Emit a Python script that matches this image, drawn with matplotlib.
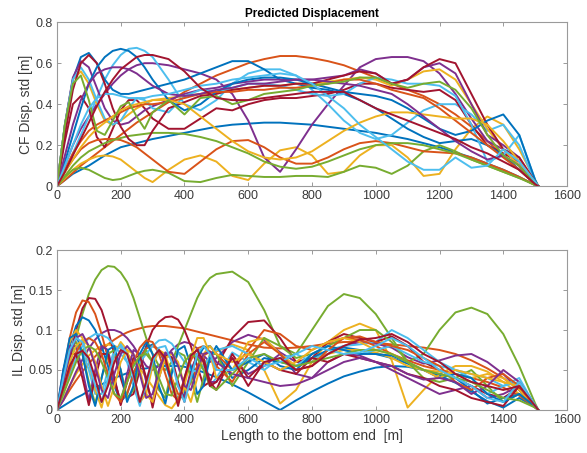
import matplotlib
matplotlib.use("Agg")
import matplotlib.pyplot as plt

plt.rcParams['font.family'] = ['Liberation Sans', 'DejaVu Sans']

# ---- CF panel: positions along the riser [m] where values were read
cf_x = [0, 25, 50, 75, 100, 125, 150, 175, 200, 225, 250, 275, 300] + list(range(350, 1501, 50)) + [1510]

cf_blue_1 = [0, .03, .06, .08, .10, .125, .15, .17, .19, .20, .21, .22, .23,
             .245, .26, .275, .29, .30, .305, .31, .31, .305, .30, .29, .28, .27, .26, .245, .23, .21, .19, .165, .14, .11, .08, .045, .005, 0]
cf_blue_2 = [0, .30, .52, .63, .65, .60, .52, .47, .45, .45, .46, .47, .48,
             .50, .52, .55, .58, .61, .61, .57, .52, .50, .48, .47, .45, .42, .38, .33, .28, .24, .21, .22, .23, .20, .15, .08, .01, 0]
cf_blue_3 = [0, .12, .25, .38, .50, .58, .63, .66, .67, .66, .63, .58, .52,
             .42, .37, .40, .46, .50, .52, .53, .53, .52, .50, .48, .46, .45, .44, .42, .38, .33, .28, .25, .27, .32, .35, .25, .03, 0]
cf_orange_1 = [0, .03, .065, .10, .13, .16, .19, .22, .25, .28, .31, .335, .36,
               .41, .46, .50, .54, .57, .60, .62, .635, .635, .625, .61, .59, .56, .53, .50, .47, .44, .40, .35, .29, .22, .15, .08, .01, 0]
cf_orange_2 = [0, .07, .13, .18, .21, .225, .23, .23, .225, .21, .19, .16, .13,
               .07, .06, .12, .18, .22, .225, .19, .14, .11, .11, .14, .18, .21, .22, .21, .19, .17, .165, .16, .14, .11, .08, .045, .005, 0]
cf_orange_3 = [0, .08, .16, .22, .27, .30, .32, .34, .36, .38, .39, .40, .40,
               .41, .43, .45, .46, .46, .47, .47, .48, .48, .49, .50, .52, .52, .50, .47, .45, .43, .38, .32, .26, .20, .14, .08, .01, 0]
cf_yellow_1 = [0, .04, .08, .11, .13, .145, .15, .145, .13, .10, .07, .04, .02,
               .08, .13, .15, .12, .05, .03, .11, .175, .19, .15, .06, .07, .15, .20, .20, .14, .05, .06, .18, .28, .34, .30, .18, .03, 0]
cf_yellow_2 = [0, .30, .52, .56, .50, .40, .32, .30, .32, .35, .38, .40, .42,
               .43, .44, .45, .46, .47, .48, .49, .49, .50, .50, .51, .52, .53, .52, .49, .52, .56, .57, .52, .40, .28, .18, .10, .01, 0]
cf_yellow_3 = [0, .07, .13, .19, .24, .28, .31, .34, .37, .39, .40, .41, .42,
               .42, .40, .34, .28, .22, .17, .14, .13, .14, .17, .22, .27, .31, .34, .36, .36, .35, .34, .33, .33, .30, .22, .12, .02, 0]
cf_purple_1 = [0, .10, .20, .28, .34, .40, .45, .50, .54, .57, .59, .60, .60,
               .59, .57, .55, .52, .45, .32, .14, .07, .18, .30, .40, .49, .58, .62, .63, .63, .61, .55, .45, .33, .22, .18, .10, .01, 0]
cf_purple_2 = [0, .30, .53, .61, .58, .48, .38, .32, .30, .31, .34, .37, .39,
               .42, .45, .47, .48, .50, .51, .52, .52, .52, .52, .53, .54, .57, .55, .50, .52, .58, .60, .55, .40, .25, .20, .14, .02, 0]
cf_purple_3 = [0, .15, .30, .42, .50, .55, .57, .58, .58, .57, .55, .52, .49,
               .45, .44, .45, .47, .48, .50, .50, .51, .52, .52, .51, .50, .49, .47, .45, .40, .34, .28, .22, .17, .13, .15, .10, .01, 0]
cf_green_1 = [0, .045, .08, .09, .08, .06, .04, .03, .035, .05, .065, .075, .08,
              .065, .025, .02, .04, .055, .05, .045, .045, .05, .05, .045, .07, .10, .09, .06, .10, .17, .20, .17, .13, .10, .07, .04, .01, 0]
cf_green_2 = [0, .05, .10, .14, .17, .19, .21, .225, .235, .245, .25, .255, .26,
              .26, .255, .24, .22, .19, .16, .12, .095, .085, .095, .12, .15, .18, .20, .21, .21, .20, .18, .16, .13, .10, .07, .04, .005, 0]
cf_green_3 = [0, .30, .50, .54, .42, .27, .25, .32, .39, .41, .34, .28, .36,
              .42, .35, .43, .44, .40, .42, .45, .46, .47, .49, .50, .51, .53, .53, .50, .48, .50, .51, .47, .38, .25, .15, .10, .01, 0]
cf_lblue_1 = [0, .08, .16, .25, .34, .43, .52, .59, .64, .67, .675, .66, .63,
              .52, .40, .37, .42, .50, .55, .57, .57, .54, .47, .40, .32, .26, .23, .25, .31, .37, .40, .40, .35, .27, .30, .20, .02, 0]
cf_lblue_2 = [0, .30, .52, .58, .52, .42, .33, .30, .32, .38, .43, .42, .38,
              .36, .44, .47, .46, .48, .50, .50, .49, .47, .45, .44, .45, .50, .53, .52, .50, .50, .49, .44, .30, .12, .15, .25, .03, 0]
cf_lblue_3 = [0, .10, .20, .30, .38, .43, .45, .45, .44, .43, .43, .43, .44,
              .45, .47, .49, .50, .52, .53, .54, .55, .54, .50, .44, .38, .30, .24, .18, .12, .08, .08, .14, .09, .10, .18, .12, .02, 0]
cf_dred_1 = [0, .22, .40, .44, .38, .24, .19, .28, .37, .42, .42, .38, .33,
             .28, .28, .33, .38, .37, .40, .42, .43, .43, .44, .45, .47, .50, .50, .48, .47, .46, .47, .42, .30, .20, .16, .12, .02, 0]
cf_dred_2 = [0, .25, .47, .60, .64, .60, .50, .38, .29, .23, .20, .20, .27,
             .38, .41, .44, .45, .47, .48, .49, .49, .50, .50, .52, .54, .56, .55, .50, .52, .58, .62, .60, .45, .30, .18, .14, .02, 0]
cf_dred_3 = [0, .07, .15, .23, .31, .39, .46, .52, .57, .60, .63, .64, .64,
             .62, .56, .48, .43, .42, .42, .43, .44, .45, .46, .46, .46, .42, .38, .35, .32, .29, .26, .23, .19, .16, .12, .08, .01, 0]

# ---- IL panel
il_x = list(range(0, 501, 20)) + list(range(550, 1501, 50)) + [1510]

il_blue_1 = [0, .005, .01, .015, .019, .024, .028, .032, .036, .04, .043, .046, .048, .051, .052, .054, .055, .055, .055, .055, .054, .052, .05, .047, .044, .041,
             .032, .022, .011, 0, .012, .023, .033, .042, .048, .053, .055, .054, .05, .043, .034, .023, .011, .003, .015, .004, 0]
il_blue_2 = [0, .04, .08, .105, .116, .112, .10, .08, .055, .03, .01, .02, .045, .065, .078, .082, .075, .058, .035, .012, .02, .045, .065, .078, .08, .07,
             .04, .05, .065, .06, .055, .065, .075, .078, .075, .07, .065, .058, .05, .045, .04, .025, .008, .015, .02, .003, 0]
il_blue_3 = [0, .05, .09, .095, .07, .03, .005, .04, .075, .08, .05, .01, .03, .07, .085, .07, .03, .008, .045, .075, .08, .055, .02, .03, .065, .08,
             .05, .06, .07, .055, .05, .07, .08, .075, .07, .07, .068, .06, .05, .04, .045, .04, .02, .01, .02, .004, 0]
il_orange_1 = [0, .012, .025, .037, .048, .058, .067, .075, .082, .088, .093, .097, .10, .102, .104, .105, .105, .105, .104, .103, .102, .10, .098, .096, .094, .092,
               .087, .082, .078, .077, .078, .08, .083, .085, .085, .084, .082, .08, .078, .075, .07, .062, .052, .04, .025, .004, 0]
il_orange_2 = [0, .045, .09, .122, .137, .135, .12, .095, .065, .035, .012, .02, .045, .065, .077, .08, .075, .06, .04, .02, .015, .035, .055, .068, .073, .07,
               .05, .075, .10, .095, .08, .075, .085, .09, .088, .08, .07, .062, .055, .05, .045, .04, .035, .028, .018, .003, 0]
il_orange_3 = [0, .025, .05, .072, .085, .09, .085, .07, .045, .02, .01, .035, .06, .078, .087, .085, .07, .045, .02, .012, .04, .062, .077, .08, .072, .055,
               .035, .07, .085, .07, .05, .055, .075, .09, .092, .085, .08, .075, .065, .055, .035, .025, .04, .045, .03, .005, 0]
il_yellow_1 = [0, .015, .03, .045, .057, .068, .075, .08, .082, .08, .077, .07, .062, .052, .041, .029, .017, .006, .002, .013, .025, .037, .048, .058, .066, .073,
               .082, .075, .05, .008, .025, .06, .085, .10, .108, .10, .062, .003, .025, .045, .055, .055, .048, .035, .02, .003, 0]
il_yellow_2 = [0, .045, .085, .10, .09, .06, .025, .003, .035, .07, .085, .075, .045, .01, .02, .055, .075, .07, .04, .008, .03, .065, .09, .09, .07, .04,
               .05, .085, .09, .07, .055, .06, .07, .075, .075, .072, .065, .055, .05, .048, .045, .04, .045, .04, .025, .004, 0]
il_yellow_3 = [0, .03, .06, .08, .088, .08, .06, .03, .005, .03, .06, .075, .07, .05, .02, .01, .04, .065, .07, .06, .03, .01, .04, .07, .08, .07,
               .06, .07, .06, .05, .06, .075, .085, .09, .085, .075, .07, .06, .05, .04, .05, .045, .04, .035, .03, .005, 0]
il_purple_1 = [0, .012, .03, .048, .063, .077, .088, .096, .10, .10, .097, .09, .08, .067, .055, .05, .055, .065, .075, .082, .085, .083, .077, .068, .06, .065,
               .085, .094, .088, .072, .06, .06, .07, .08, .085, .083, .078, .066, .058, .062, .068, .07, .06, .045, .025, .004, 0]
il_purple_2 = [0, .05, .08, .08, .05, .012, .05, .08, .075, .04, .008, .045, .075, .07, .035, .01, .05, .072, .065, .03, .015, .05, .068, .06, .035, .035,
               .065, .045, .055, .07, .045, .04, .06, .07, .068, .06, .05, .04, .03, .02, .025, .03, .015, .02, .03, .005, 0]
il_purple_3 = [0, .035, .07, .09, .095, .08, .055, .025, .015, .045, .07, .08, .07, .045, .015, .02, .05, .07, .072, .055, .03, .025, .05, .07, .073, .06,
               .045, .04, .035, .03, .032, .04, .05, .06, .065, .06, .055, .045, .038, .04, .035, .02, .03, .05, .035, .005, 0]
il_green_1 = [0, .03, .06, .09, .12, .145, .163, .175, .18, .179, .172, .16, .14, .115, .09, .07, .055, .05, .06, .08, .10, .12, .14, .155, .165, .17,
              .173, .16, .125, .08, .07, .10, .13, .145, .14, .12, .09, .06, .07, .10, .122, .128, .12, .095, .055, .008, 0]
il_green_2 = [0, .04, .075, .085, .07, .035, .008, .04, .07, .075, .05, .015, .025, .06, .075, .06, .025, .015, .05, .072, .068, .04, .01, .04, .07, .07,
              .03, .06, .09, .08, .065, .07, .08, .09, .10, .10, .085, .06, .04, .035, .04, .05, .03, .01, .02, .004, 0]
il_green_3 = [0, .02, .04, .06, .075, .08, .075, .06, .04, .02, .015, .035, .055, .068, .07, .06, .04, .02, .018, .04, .06, .07, .065, .05, .03, .025,
              .045, .065, .07, .06, .055, .06, .065, .07, .075, .075, .07, .06, .05, .045, .04, .035, .025, .015, .012, .003, 0]
il_lblue_1 = [0, .03, .06, .08, .075, .05, .02, .02, .05, .075, .08, .06, .03, .005, .035, .065, .075, .06, .03, .01, .04, .068, .07, .05, .03, .04,
              .072, .06, .05, .065, .07, .06, .075, .08, .082, .085, .10, .09, .075, .06, .05, .045, .04, .03, .04, .005, 0]
il_lblue_2 = [0, .02, .045, .065, .08, .09, .095, .094, .09, .08, .07, .06, .055, .06, .07, .08, .087, .088, .083, .072, .06, .05, .048, .055, .067, .075,
              .08, .07, .06, .05, .055, .07, .08, .075, .07, .075, .08, .07, .06, .055, .05, .04, .02, .03, .035, .006, 0]
il_lblue_3 = [0, .04, .075, .09, .085, .06, .03, .01, .04, .07, .082, .07, .04, .01, .03, .06, .078, .08, .06, .03, .01, .04, .07, .08, .07, .05,
              .05, .065, .055, .06, .07, .08, .075, .07, .072, .08, .09, .08, .065, .05, .04, .03, .015, .01, .035, .005, 0]
il_dred_1 = [0, .03, .065, .10, .127, .14, .139, .125, .10, .07, .04, .015, .02, .05, .08, .10, .11, .116, .117, .113, .10, .08, .055, .03, .035, .055,
             .09, .11, .112, .09, .06, .065, .085, .095, .09, .085, .092, .08, .06, .05, .04, .03, .02, .015, .028, .005, 0]
il_dred_2 = [0, .04, .07, .07, .04, .006, .04, .07, .07, .04, .006, .035, .065, .068, .04, .003, .04, .068, .066, .035, .01, .045, .07, .065, .035, .025,
             .07, .04, .06, .05, .045, .065, .06, .07, .065, .06, .055, .045, .04, .03, .025, .015, .01, .005, .03, .005, 0]
il_dred_3 = [0, .028, .055, .07, .074, .065, .04, .01, .03, .06, .075, .07, .045, .01, .035, .065, .075, .065, .035, .005, .04, .068, .075, .06, .03, .035,
             .065, .03, .06, .065, .05, .055, .07, .08, .088, .09, .095, .085, .07, .06, .045, .035, .03, .025, .03, .005, 0]

x_ticks = [0, 200, 400, 600, 800, 1000, 1200, 1400, 1600]
cf_ticks = [0, 0.2, 0.4, 0.6, 0.8]
cf_tick_labels = ['0', '0.2', '0.4', '0.6', '0.8']
il_ticks = [0, 0.05, 0.1, 0.15, 0.2]
il_tick_labels = ['0', '0.05', '0.1', '0.15', '0.2']

# matlab default colour order
c_blue, c_orange, c_yellow, c_purple = '#0072BD', '#D95319', '#EDB120', '#7E2F8E'
c_green, c_lblue, c_dred = '#77AC30', '#4DBEEE', '#A2142F'

cf_lines = [
    (cf_blue_1, c_blue), (cf_orange_1, c_orange), (cf_yellow_1, c_yellow), (cf_purple_1, c_purple),
    (cf_green_1, c_green), (cf_lblue_1, c_lblue), (cf_dred_1, c_dred),
    (cf_blue_2, c_blue), (cf_orange_2, c_orange), (cf_yellow_2, c_yellow), (cf_purple_2, c_purple),
    (cf_green_2, c_green), (cf_lblue_2, c_lblue), (cf_dred_2, c_dred),
    (cf_blue_3, c_blue), (cf_orange_3, c_orange), (cf_yellow_3, c_yellow), (cf_purple_3, c_purple),
    (cf_green_3, c_green), (cf_lblue_3, c_lblue), (cf_dred_3, c_dred),
]
il_lines = [
    (il_blue_1, c_blue), (il_orange_1, c_orange), (il_yellow_1, c_yellow), (il_purple_1, c_purple),
    (il_green_1, c_green), (il_lblue_1, c_lblue), (il_dred_1, c_dred),
    (il_blue_2, c_blue), (il_orange_2, c_orange), (il_yellow_2, c_yellow), (il_purple_2, c_purple),
    (il_green_2, c_green), (il_lblue_2, c_lblue), (il_dred_2, c_dred),
    (il_blue_3, c_blue), (il_orange_3, c_orange), (il_yellow_3, c_yellow), (il_purple_3, c_purple),
    (il_green_3, c_green), (il_lblue_3, c_lblue), (il_dred_3, c_dred),
]


def style_axes(ax, yticks, ylabels, ylim, ylabel):
    ax.set_xlim(0, 1600)
    ax.set_ylim(*ylim)
    ax.set_xticks(x_ticks)
    ax.set_xticklabels([str(t) for t in x_ticks])
    ax.set_yticks(yticks)
    ax.set_yticklabels(ylabels)
    ax.tick_params(direction='in', top=True, right=True, length=3, width=0.6,
                   color='#8a8a8a', labelcolor='#3a3a3a', labelsize=9, pad=3)
    for s in ax.spines.values():
        s.set_color('#9a9a9a')
        s.set_linewidth(0.8)
    ax.set_ylabel(ylabel, fontsize=10, color='#3a3a3a', labelpad=2)


fig = plt.figure(figsize=(5.87, 4.53), dpi=100)
ax1 = fig.add_axes([0.097, 0.589, 0.869, 0.362])
ax2 = fig.add_axes([0.097, 0.095, 0.869, 0.353])

for y, c in cf_lines:
    ax1.plot(cf_x, y, color=c, lw=1.4, solid_joinstyle='round')
for y, c in il_lines:
    ax2.plot(il_x, y, color=c, lw=1.4, solid_joinstyle='round')

style_axes(ax1, cf_ticks, cf_tick_labels, (0, 0.8), 'CF Disp. std [m]')
style_axes(ax2, il_ticks, il_tick_labels, (0, 0.2), 'IL Disp. std [m]')
ax1.set_title('Predicted Displacement', fontsize=8.5, fontweight='bold', pad=4)
ax2.set_xlabel('Length to the bottom end  [m]', fontsize=10, color='#3a3a3a', labelpad=2)

fig.savefig('out.png', dpi=100)
